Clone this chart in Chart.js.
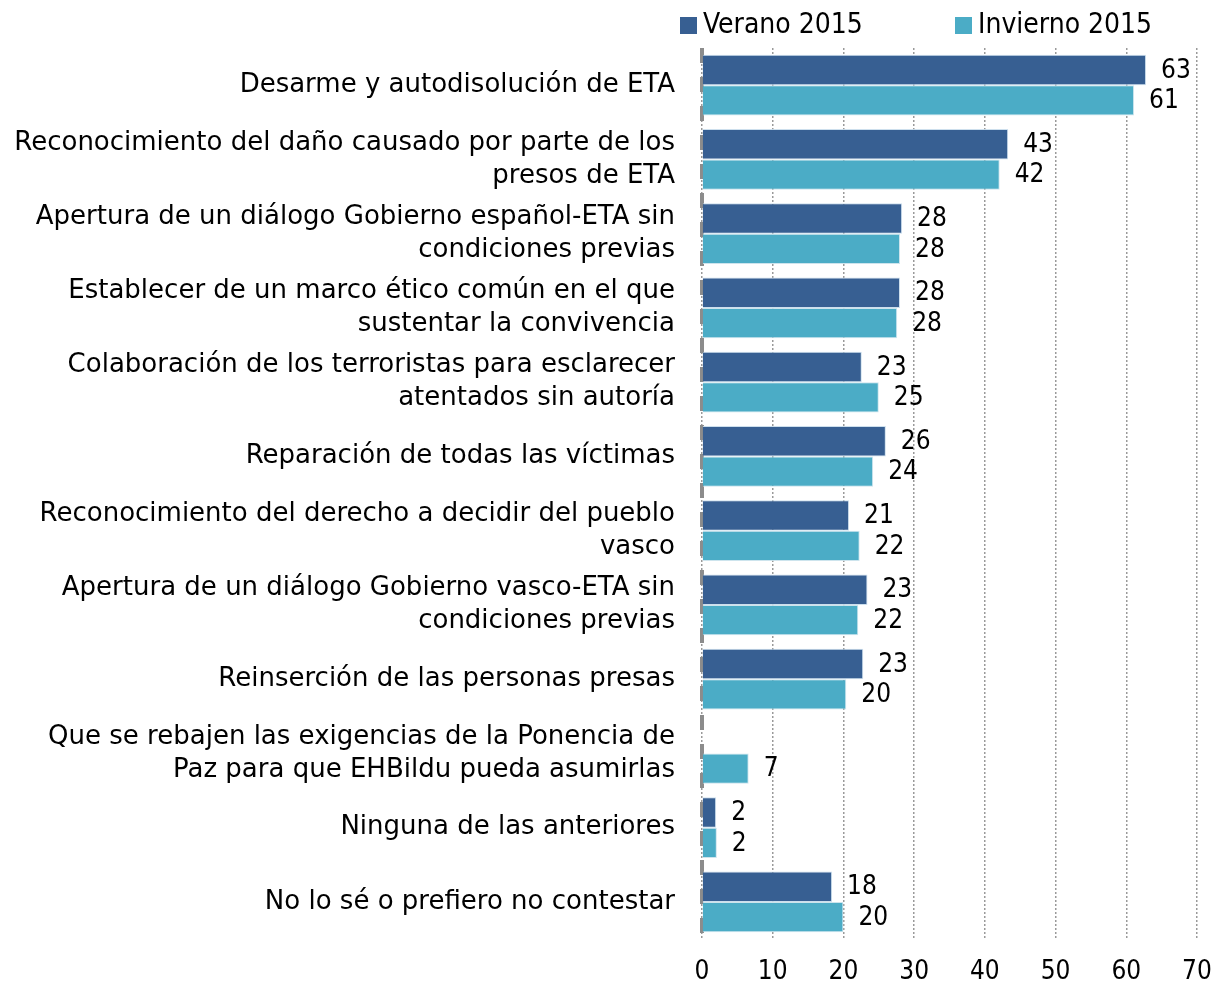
<!DOCTYPE html>
<html>
<head>
<meta charset="utf-8">
<script src="https://cdn.jsdelivr.net/npm/chart.js@4"></script>
<style>
  html, body { margin: 0; padding: 0; background: #fff; }
  #wrap { width: 1213px; height: 983px; }
</style>
</head>
<body>
<div id="wrap"><canvas id="chartBar"></canvas></div>
<script>
const categories = [
    'Desarme y autodisolución de ETA',
    ['Reconocimiento del daño causado por parte de los', 'presos de ETA'],
    ['Apertura de un diálogo Gobierno español-ETA sin', 'condiciones previas'],
    ['Establecer de un marco ético común en el que', 'sustentar la convivencia'],
    ['Colaboración de los terroristas para esclarecer', 'atentados sin autoría'],
    'Reparación de todas las víctimas',
    ['Reconocimiento del derecho a decidir del pueblo', 'vasco'],
    ['Apertura de un diálogo Gobierno vasco-ETA sin', 'condiciones previas'],
    'Reinserción de las personas presas',
    ['Que se rebajen las exigencias de la Ponencia de', 'Paz para que EHBildu pueda asumirlas'],
    'Ninguna de las anteriores',
    'No lo sé o prefiero no contestar'
];
const verano2015 = [62.8, 43.3, 28.3, 28.0, 22.6, 26.0, 20.8, 23.4, 22.8, null, 2.0, 18.4];
const invierno2015 = [61.1, 42.1, 28.0, 27.6, 25.0, 24.2, 22.3, 22.1, 20.4, 6.6, 2.1, 20.0];
const xTicks = [0, 10, 20, 30, 40, 50, 60, 70];

const FONT = "'DejaVu Sans Condensed', 'DejaVu Sans', sans-serif";
const LABEL_FONT = "'DejaVu Sans', sans-serif";
const COLORS = ['#375f92', '#4bacc6'];
const SERIES = ['Verano 2015', 'Invierno 2015'];

// etiquetas de valor a la derecha de cada barra
const valueLabels = {
    id: 'valueLabels',
    afterDatasetsDraw(chart) {
        const ctx = chart.ctx;
        ctx.save();
        ctx.font = '26px ' + FONT;
        ctx.fillStyle = '#000';
        ctx.textBaseline = 'middle';
        chart.data.datasets.forEach((ds, i) => {
            chart.getDatasetMeta(i).data.forEach((bar, j) => {
                const v = ds.data[j];
                if (v === null) return;
                ctx.fillText(Math.round(v), bar.x + 15, bar.y + 1);
            });
        });
        ctx.restore();
    }
};

// leyenda arriba a la derecha
const topLegend = {
    id: 'topLegend',
    afterDraw(chart) {
        const ctx = chart.ctx;
        const right = chart.chartArea.right;
        ctx.save();
        ctx.font = '28px ' + FONT;
        ctx.textBaseline = 'middle';
        const starts = [right - 517, right - 242];
        SERIES.forEach((name, i) => {
            ctx.fillStyle = COLORS[i];
            ctx.fillRect(starts[i], 17, 17, 17);
            ctx.fillStyle = '#000';
            ctx.fillText(name, starts[i] + 23, 26);
        });
        ctx.restore();
    }
};

// eje vertical discontinuo en cero
const zeroAxis = {
    id: 'zeroAxis',
    beforeDatasetsDraw(chart) {
        const ctx = chart.ctx;
        const x = chart.scales.x.getPixelForValue(0);
        ctx.save();
        ctx.strokeStyle = '#8c8c8c';
        ctx.lineWidth = 4;
        ctx.setLineDash([15, 14]);
        ctx.beginPath();
        ctx.moveTo(x, chart.chartArea.top);
        ctx.lineTo(x, chart.chartArea.bottom);
        ctx.stroke();
        ctx.restore();
    }
};

const chartBar = new Chart(document.getElementById('chartBar'), {
    type: 'bar',
    data: {
        labels: categories,
        datasets: [
            {
                label: SERIES[0],
                data: verano2015,
                backgroundColor: COLORS[0],
                borderColor: 'rgba(200,220,235,0.9)',
                borderWidth: 1,
                barPercentage: 1,
                categoryPercentage: 0.82,
            },
            {
                label: SERIES[1],
                data: invierno2015,
                backgroundColor: COLORS[1],
                borderColor: 'rgba(200,225,235,0.9)',
                borderWidth: 1,
                barPercentage: 1,
                categoryPercentage: 0.82,
            },
        ]
    },
    options: {
        indexAxis: 'y',
        responsive: true,
        maintainAspectRatio: false,
        animation: false,
        layout: {
            padding: { top: 48, right: 16, bottom: 0, left: 0 }
        },
        plugins: {
            legend: { display: false },
            tooltip: { enabled: false },
        },
        scales: {
            x: {
                min: 0,
                max: 70,
                afterBuildTicks(axis) {
                    axis.ticks = xTicks.map(v => ({ value: v }));
                },
                afterFit(axis) {
                    axis.height = 44;
                    axis.paddingRight = 0;
                    axis.paddingLeft = 0;
                },
                grid: {
                    color: '#9a9a9a',
                    lineWidth: 1.5,
                    drawTicks: false,
                },
                border: { display: false, dash: [2, 2] },
                ticks: {
                    color: '#000',
                    font: { family: FONT, size: 26 },
                    padding: 18,
                },
            },
            y: {
                grid: { display: false },
                border: { display: false },
                afterFit(axis) { axis.width = 702; },
                ticks: {
                    color: '#000',
                    font: { family: LABEL_FONT, size: 26, lineHeight: '33px' },
                    padding: 19,
                },
            },
        },
    },
    plugins: [zeroAxis, valueLabels, topLegend],
});
</script>
</body>
</html>
